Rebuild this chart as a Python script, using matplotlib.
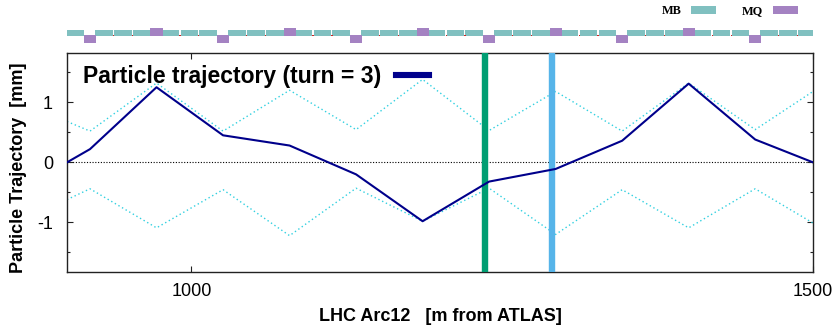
import matplotlib
matplotlib.use("Agg")
import matplotlib.pyplot as plt
from matplotlib.patches import Rectangle, Patch
from matplotlib.lines import Line2D
from matplotlib.ticker import MultipleLocator, FixedLocator

plt.rcParams["font.family"] = ["Liberation Sans", "DejaVu Sans"]
plt.rcParams["axes.unicode_minus"] = False

# ---- lattice of the arc (positions in m from ATLAS) ----
# quadrupole centres; +1 = focusing (drawn above the beam line), -1 = defocusing
quad_s = [865.0, 918.5, 972.0, 1025.5, 1079.0, 1132.5, 1186.0,
          1239.5, 1293.0, 1346.5, 1400.0, 1453.5]
quad_pol = [1, -1, 1, -1, 1, -1, 1, -1, 1, -1, 1, -1]
quad_len = 9.7
# three main dipoles per half cell, entrance offsets from the quadrupole centre
mb_offsets = [4.0, 19.3, 34.5]
mb_len = 14.3
# small orbit correctors sitting in the dipole interconnects
mcb_offsets = [18.9, 34.1]
mcb_len = 0.9

# ---- orbit data at the beam position monitors ----
bpm_s = [900.0, 918.5, 972.0, 1025.5, 1079.0, 1132.5, 1186.0,
         1239.5, 1293.0, 1346.5, 1400.0, 1453.5, 1500.0]
trajectory = [0.0, 0.22, 1.25, 0.45, 0.28, -0.20, -0.98,
              -0.32, -0.11, 0.36, 1.31, 0.38, 0.0]
envelope_upper = [0.68, 0.52, 1.32, 0.52, 1.20, 0.545, 1.38,
                  0.53, 1.18, 0.52, 1.32, 0.545, 1.18]
envelope_lower = [-0.62, -0.44, -1.09, -0.455, -1.22, -0.43, -0.98,
                  -0.43, -1.20, -0.455, -1.09, -0.44, -1.01]

# highlighted monitors
marker_green_s = 1236.3
marker_blue_s = 1290.0

x_ticks = [1000, 1500]
y_ticks = [-1, 0, 1]
turn = 3

C_MB = "#80C0C0"
C_MQ = "#A482C2"
C_MCB = "#D02020"
C_TRAJ = "#00008B"
C_ENV = "#30D0E0"

W, H = 835, 327
fig = plt.figure(figsize=(W / 100, H / 100), dpi=100)

# ---- main orbit axes ----
L, R, T, B = 67, 813, 53, 271.7
ax = fig.add_axes([L / W, 1 - B / H, (R - L) / W, (B - T) / H])
ax.set_xlim(900, 1500)
ax.set_ylim(-1.82, 1.82)

ax.axhline(0, color="black", lw=0.8, ls=(0, (1, 1.5)), zorder=1)
ax.plot(bpm_s, envelope_upper, color=C_ENV, lw=1.0, ls=(0, (1, 2)), zorder=2)
ax.plot(bpm_s, envelope_lower, color=C_ENV, lw=1.0, ls=(0, (1, 2)), zorder=2)
ax.axvline(marker_green_s, color="#009E73", lw=4.6, zorder=3)
ax.axvline(marker_blue_s, color="#56B4E9", lw=4.6, zorder=3)
ax.plot(bpm_s, trajectory, color=C_TRAJ, lw=1.5, zorder=4)

ax.xaxis.set_major_locator(FixedLocator(x_ticks))
ax.yaxis.set_major_locator(FixedLocator(y_ticks))
ax.yaxis.set_minor_locator(MultipleLocator(0.5))
ax.tick_params(which="both", direction="in", top=True, right=True,
               width=0.8, colors="#222222", labelcolor="black", labelsize=13)
ax.tick_params(which="major", length=4.3)
ax.tick_params(which="minor", length=2.2)
ax.tick_params(axis="y", pad=10)
ax.tick_params(axis="x", pad=8)
for sp in ax.spines.values():
    sp.set_linewidth(1.0)
    sp.set_color("#222222")

ax.set_xlabel("LHC Arc12   [m from ATLAS]", fontsize=13, fontweight="bold")
ax.xaxis.set_label_coords(0.5, -0.165)
ax.set_ylabel("Particle Trajectory  [mm]", fontsize=13, fontweight="bold")
ax.yaxis.set_label_coords(-0.054, 0.474)

key = Line2D([], [], color=C_TRAJ, lw=4.4)
ax.legend([key], [f"Particle trajectory (turn = {turn})"], loc="upper left",
          bbox_to_anchor=(0.021, 0.946), borderaxespad=0, borderpad=0,
          frameon=False, markerfirst=False, handlelength=1.42,
          handletextpad=0.67,
          prop={"family": "Liberation Sans", "weight": "bold", "size": 16.5})

# ---- magnet layout strip ----
mx = fig.add_axes([L / W, 1 - 44 / H, (R - L) / W, 20 / H], sharex=ax)
mx.set_ylim(-10, 10)
mx.axis("off")
for q in quad_s:
    for off in mb_offsets:
        mx.add_patch(Rectangle((q + off, -2), mb_len, 6, facecolor=C_MB,
                               edgecolor="none", zorder=1))
    for off in mcb_offsets:
        mx.add_patch(Rectangle((q + off - mcb_len / 2, -2), mcb_len, 1,
                               facecolor=C_MCB, edgecolor="none", zorder=3))
for q, p in zip(quad_s, quad_pol):
    y0, h = (-2, 8) if p > 0 else (-8.7, 7.7)
    mx.add_patch(Rectangle((q - quad_len / 2, y0), quad_len, h, facecolor=C_MQ,
                           edgecolor="none", zorder=2))

fig.legend([Patch(facecolor=C_MB, edgecolor="none"),
            Patch(facecolor=C_MQ, edgecolor="none")], ["MB", "MQ"],
           loc="upper right", bbox_to_anchor=(798 / W, 1 - 5.5 / H), ncol=2,
           frameon=False, markerfirst=False, borderpad=0, borderaxespad=0,
           handlelength=2.05, handleheight=0.67, handletextpad=0.8,
           columnspacing=2.1,
           prop={"family": "Liberation Serif", "weight": "bold", "size": 8.8})

fig.savefig("out.png", dpi=100)
